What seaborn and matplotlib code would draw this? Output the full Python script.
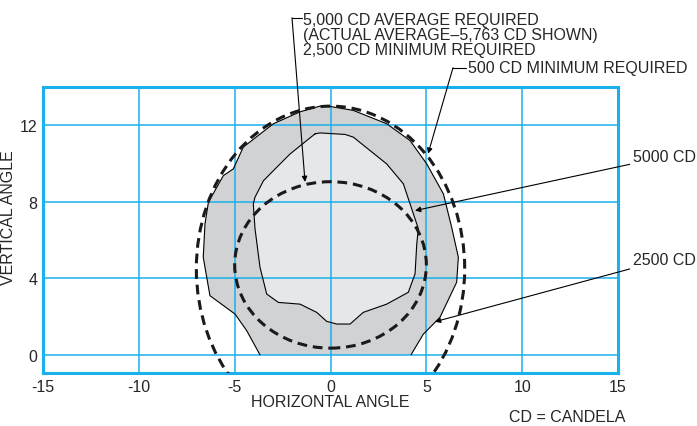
import matplotlib
matplotlib.use("Agg")
import matplotlib.pyplot as plt
from matplotlib.patches import Ellipse
import pandas as pd
import seaborn as sns

# 2500 CD contour (open at the bottom, cut off at 0 deg)
outer_x = [-3.68, -4.37, -4.98, -6.29, -6.64, -6.55, -6.37, -5.59, -5.07, -4.55,
           -2.98, -1.6, -0.55, 0.0, 1.18, 2.93, 4.15, 5.02, 5.89, 6.32,
           6.67, 6.58, 5.71, 4.84, 4.2]
outer_y = [0.0, 1.26, 2.13, 3.09, 5.1, 6.84, 7.98, 9.37, 9.72, 10.86,
           12.08, 12.7, 13.0, 12.98, 12.78, 12.08, 11.2, 9.98, 8.41, 6.67,
           5.1, 3.79, 1.96, 1.08, 0.0]

# 5000 CD contour (closed)
inner_x = [-0.81, -2.11, -2.63, -3.5, -3.94, -4.03, -3.94, -3.68, -3.33, -2.72,
           -1.59, -0.72, -0.2, 0.32, 1.02, 1.71, 2.93, 4.06, 4.41, 4.5,
           4.58, 4.15, 3.8, 2.93, 1.19, 0.76, -0.55, -0.81]
inner_y = [11.55, 10.5, 9.98, 9.1, 8.24, 7.89, 6.6, 4.58, 3.18, 2.74,
           2.65, 2.22, 1.75, 1.61, 1.61, 2.22, 2.65, 3.27, 4.23, 5.8,
           6.6, 7.89, 8.94, 9.98, 11.38, 11.52, 11.6, 11.55]

# required zones: (center x, center y, width, height)
zone_500 = (0.0, 4.5, 14.0, 17.0)
zone_5000 = (0.0, 4.7, 10.0, 8.7)

x_ticks = [-15, -10, -5, 0, 5, 10, 15]
y_ticks = [0, 4, 8, 12]

blue = "#19b0ec"
fs = 11.5

sns.set_style("white")
plt.rcParams["font.family"] = ["Liberation Sans", "DejaVu Sans"]

fig = plt.figure(figsize=(6.97, 4.27), dpi=100)
ax = fig.add_axes([0.0617, 0.1241, 0.825, 0.6698])

outer = pd.DataFrame({"x": outer_x, "y": outer_y})
inner = pd.DataFrame({"x": inner_x, "y": inner_y})

ax.fill(outer["x"], outer["y"], color="#d1d2d4", lw=0, zorder=1)
ax.fill(inner["x"], inner["y"], color="#e6e7e8", lw=0, zorder=1.2)
sns.lineplot(data=outer, x="x", y="y", sort=False, estimator=None,
             color="black", lw=0.8, ax=ax, zorder=3)
sns.lineplot(data=inner, x="x", y="y", sort=False, estimator=None,
             color="black", lw=0.8, ax=ax, zorder=3)

for cx, cy, w, h in [zone_500, zone_5000]:
    ax.add_patch(Ellipse((cx, cy), w, h, fill=False, ec="#1a1a1a", lw=2.2,
                         ls=(0, (3.2, 1.9)), zorder=4))

ax.set_xlim(-15, 15)
ax.set_ylim(-0.95, 14)
ax.set_xticks(x_ticks)
ax.set_yticks(y_ticks)
ax.set_xticklabels([str(t) for t in x_ticks], fontsize=fs)
ax.set_yticklabels([str(t) for t in y_ticks], fontsize=fs)
ax.tick_params(length=0, pad=4)
ax.set_axisbelow(False)
ax.grid(True, color=blue, lw=1.1, zorder=2)
for sp in ax.spines.values():
    sp.set_visible(True)
    sp.set_color(blue)
    sp.set_linewidth(2.2)

ax.set_xlabel("HORIZONTAL ANGLE", fontsize=fs, labelpad=0)
ax.set_ylabel("VERTICAL ANGLE", fontsize=fs)
ax.yaxis.set_label_coords(-0.047, 0.547)

arrow = dict(arrowstyle="-|>", lw=0.8, color="black", mutation_scale=8,
             shrinkA=0, shrinkB=0)

# 5,000 CD average leader
ax.text(-1.43, 16.76, "5,000 CD AVERAGE REQUIRED\n(ACTUAL AVERAGE\u20135,763 CD SHOWN)\n2,500 CD MINIMUM REQUIRED",
        fontsize=fs, va="center", ha="left", linespacing=1.0, clip_on=False)
ax.plot([-2.01, -1.5], [17.62, 17.62], color="black", lw=0.8, clip_on=False)
ax.annotate("", xy=(-1.33, 9.04), xytext=(-2.01, 17.62), arrowprops=arrow,
            annotation_clip=False)

# 500 CD leader
ax.text(7.17, 15.01, "500 CD MINIMUM REQUIRED", fontsize=fs, va="center",
        ha="left", clip_on=False)
ax.plot([6.39, 7.05], [15.01, 15.01], color="black", lw=0.8, clip_on=False)
ax.annotate("", xy=(5.09, 10.51), xytext=(6.39, 15.01), arrowprops=arrow,
            annotation_clip=False)

# 5000 CD leader
ax.annotate("5000 CD", xy=(4.41, 7.54), xytext=(15.78, 10.35), fontsize=fs,
            va="center", ha="left", arrowprops=arrow, annotation_clip=False)

# 2500 CD leader
ax.annotate("2500 CD", xy=(5.45, 1.73), xytext=(15.78, 4.98), fontsize=fs,
            va="center", ha="left", arrowprops=arrow, annotation_clip=False)

ax.text(15.4, -3.22, "CD = CANDELA", fontsize=fs, va="center", ha="right",
        clip_on=False)

fig.savefig("out.png", dpi=100)
